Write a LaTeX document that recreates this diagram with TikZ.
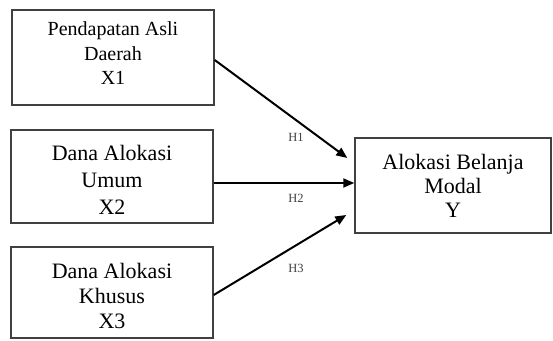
\documentclass[tikz,border=0pt]{standalone}
\usepackage{fontspec}
\setmainfont{Liberation Serif}
\usetikzlibrary{calc,arrows.meta}
\begin{document}
\begin{tikzpicture}[x=1pt,y=1pt,
  box/.style={draw=black!75,line width=1.4pt,fill=white,inner sep=0pt},
  btext/.style={inner sep=0pt,align=center,font=\fontsize{22}{25.5}\selectfont},
  link/.style={line width=2pt,-{Triangle[length=11pt,width=9pt]}},
  hlab/.style={font=\fontsize{12.5}{13}\selectfont,text=black!75}]
\useasboundingbox (0,0) rectangle (553,340);
\node[box,minimum width=202pt,minimum height=95pt] (b1) at (113,282.5) {};
\node[box,minimum width=202pt,minimum height=93pt] (b2) at (112,163.5) {};
\node[box,minimum width=202pt,minimum height=91pt] (b3) at (112,47.5) {};
\node[box,minimum width=196pt,minimum height=95pt] (y) at (453,154.5) {};
\node[btext,font=\fontsize{20}{24.5}\selectfont] (b1t) at ($(b1.center)+(0,4)$) {Pendapatan Asli\\Daerah\\X1};
\node[btext,font=\fontsize{22}{27}\selectfont] (b2t) at ($(b2.center)+(0,-3)$) {Dana Alokasi\\Umum\\X2};
\node[btext,font=\fontsize{22}{25}\selectfont] (b3t) at ($(b3.center)+(0,-3)$) {Dana Alokasi\\Khusus\\X3};
\node[btext,font=\fontsize{22}{24}\selectfont] (yt) at (y.center) {Alokasi Belanja\\Modal\\Y};
\coordinate (t1) at ($(y.west)+(-7,27.5)$);
\coordinate (t2) at ($(y.west)+(0,2.5)$);
\coordinate (t3) at ($(y.west)+(-8,-29.5)$);
\draw[link] ($(b1.east)+(0,-2.5)$) -- (t1);
\draw[link] ($(b2.east)+(0,-6.5)$) -- (t2);
\draw[link] ($(b3.east)+(0,-2.5)$) -- (t3);
\node[hlab] (h1) at (296,203) {H1};
\node[hlab] (h2) at (296,142) {H2};
\node[hlab] (h3) at (296,72) {H3};
\end{tikzpicture}
\end{document}
